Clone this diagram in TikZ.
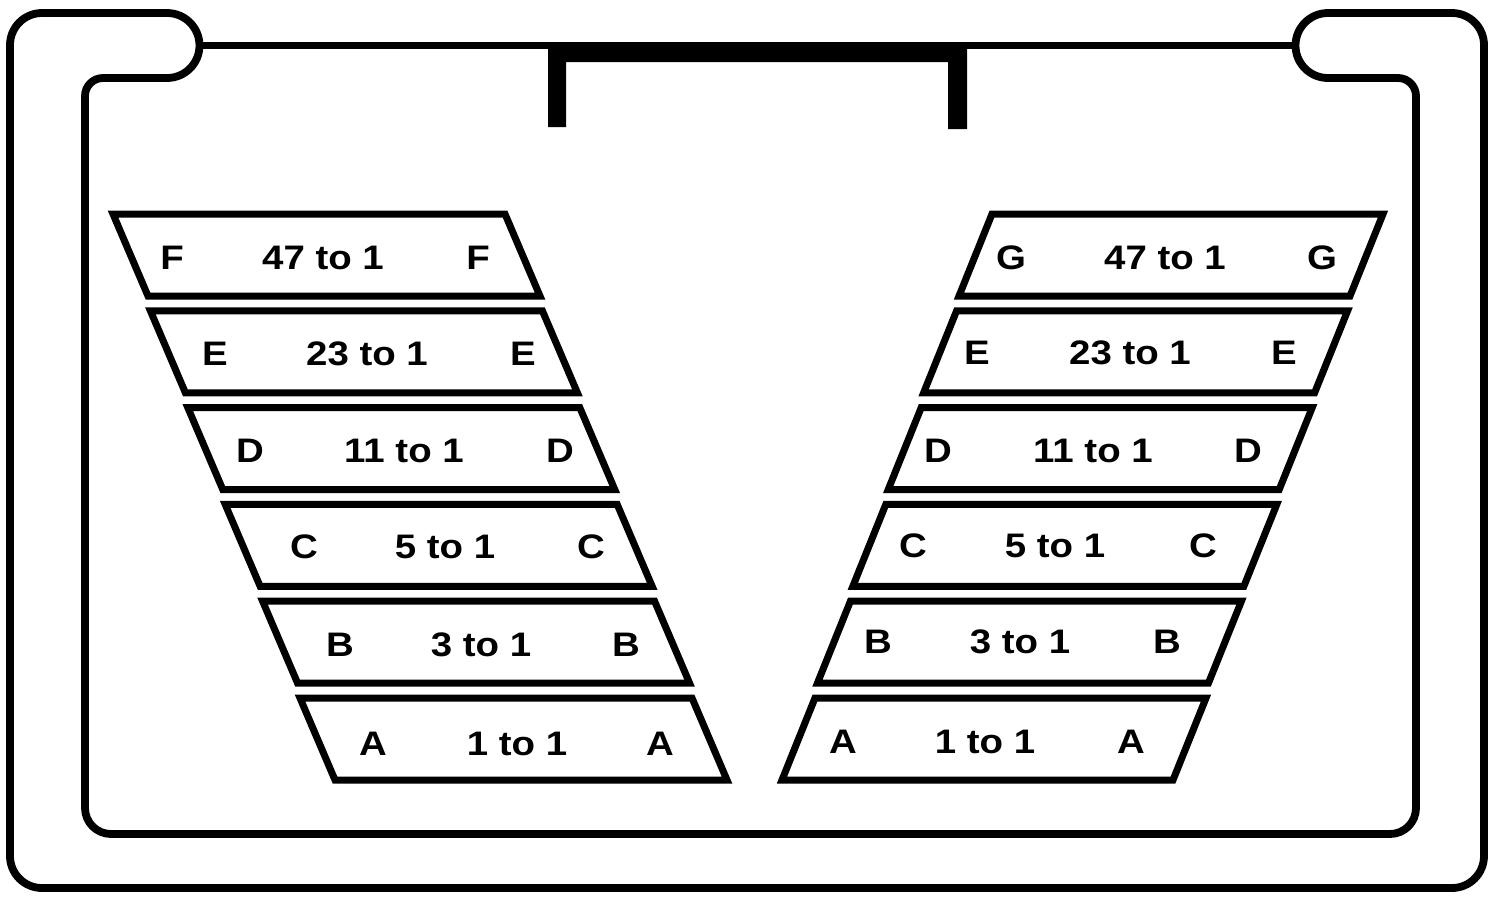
\documentclass[tikz,border=0pt]{standalone}
\usepackage{fontspec}
\setmainfont{Liberation Sans}
\begin{document}
\begin{tikzpicture}[x=0.5pt,y=-0.5pt,
  frame/.style={line width=3.9pt,line join=round},
  box/.style={line width=3.5pt,line join=miter},
  lbl/.style={font=\fontsize{17}{19}\selectfont\bfseries,inner sep=0pt,xscale=1.13}]
\useasboundingbox (0,0) rectangle (1490,896);
% outer / inner frame as one loop
\draw[frame] (167,13) [rounded corners=16pt] -- (10,13) -- (10,888) -- (1484,888) -- (1484,13) [sharp corners] -- (1328,13)
  arc[start angle=-90,end angle=-270,radius=32.5]
  [rounded corners=9pt] -- (1416,78) [rounded corners=13pt] -- (1416,834) -- (85,834) [rounded corners=9pt] -- (85,78) [sharp corners] -- (167,78)
  arc[start angle=90,end angle=-90,radius=32.5] -- cycle;
% thin line between bulges
\coordinate (lb) at (199.5,45.5);
\coordinate (rb) at (1295.5,45.5);
\draw[line width=3.4pt] (lb) -- (rb);
% thick bar
\fill (548,42) -- (967,42) -- (967,129) -- (948,129) -- (948,62) -- (566,62) -- (566,127) -- (548,127) -- cycle;
% left boxes
\foreach \i in {0,...,5}{
  \pgfmathsetmacro{\tx}{113+37.4*\i}
  \pgfmathsetmacro{\ty}{214+96.8*\i}
  \draw[box] (\tx,\ty) -- ++(392,0) -- ++(35,82) -- ++(-392,0) -- cycle;
}
% right boxes
\foreach \i in {0,...,5}{
  \pgfmathsetmacro{\tx}{992-35.4*\i}
  \pgfmathsetmacro{\ty}{214+96.8*\i}
  \draw[box] (\tx,\ty) -- ++(391,0) -- ++(-33,82) -- ++(-391,0) -- cycle;
}
% left labels
\node[lbl] (lF1) at (172,258) {F};
\node[lbl] (lFr) at (323,258) {47 to 1};
\node[lbl] (lF2) at (478,258) {F};
\node[lbl] (lE1) at (215,354) {E};
\node[lbl] (lEr) at (367,354) {23 to 1};
\node[lbl] (lE2) at (523,354) {E};
\node[lbl] (lD1) at (250,451) {D};
\node[lbl] (lDr) at (404,451) {11 to 1};
\node[lbl] (lD2) at (560,451) {D};
\node[lbl] (lC1) at (304,547) {C};
\node[lbl] (lCr) at (445,547) {5 to 1};
\node[lbl] (lC2) at (591,547) {C};
\node[lbl] (lB1) at (340,645) {B};
\node[lbl] (lBr) at (481,645) {3 to 1};
\node[lbl] (lB2) at (626,645) {B};
\node[lbl] (lA1) at (373,744) {A};
\node[lbl] (lAr) at (517,744) {1 to 1};
\node[lbl] (lA2) at (660,744) {A};
% right labels
\node[lbl] (rG1) at (1011,258) {G};
\node[lbl] (rGr) at (1165,258) {47 to 1};
\node[lbl] (rG2) at (1322,258) {G};
\node[lbl] (rE1) at (977,353) {E};
\node[lbl] (rEr) at (1130,353) {23 to 1};
\node[lbl] (rE2) at (1284,353) {E};
\node[lbl] (rD1) at (938,451) {D};
\node[lbl] (rDr) at (1093,451) {11 to 1};
\node[lbl] (rD2) at (1248,451) {D};
\node[lbl] (rC1) at (913,546) {C};
\node[lbl] (rCr) at (1055,546) {5 to 1};
\node[lbl] (rC2) at (1203,546) {C};
\node[lbl] (rB1) at (878,642) {B};
\node[lbl] (rBr) at (1020,642) {3 to 1};
\node[lbl] (rB2) at (1167,642) {B};
\node[lbl] (rA1) at (843,742) {A};
\node[lbl] (rAr) at (985,742) {1 to 1};
\node[lbl] (rA2) at (1131,742) {A};
\end{tikzpicture}
\end{document}
